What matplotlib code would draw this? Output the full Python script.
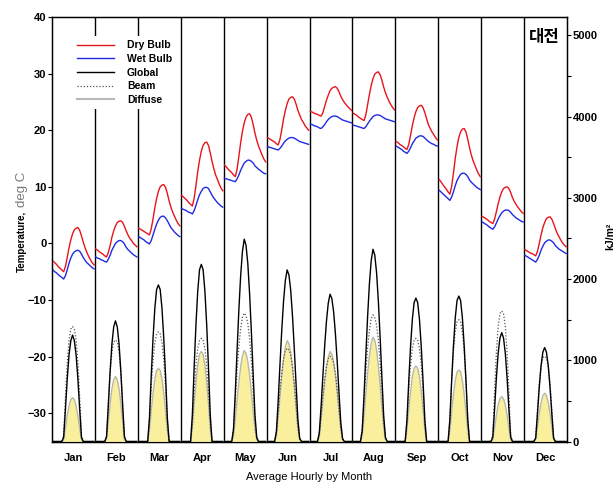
import numpy as np
import matplotlib
matplotlib.use('Agg')
from matplotlib import pyplot as plt
from matplotlib.lines import Line2D

plt.rcParams['font.family'] = ['Liberation Sans', 'DejaVu Sans']

months = ['Jan', 'Feb', 'Mar', 'Apr', 'May', 'Jun',
          'Jul', 'Aug', 'Sep', 'Oct', 'Nov', 'Dec']

# average hourly dry bulb temperature (degC), hours 0..23 for each month
dry_bulb = [
    [-3.1, -3.4, -3.7, -4.1, -4.4, -4.7, -5.0, -4.1, -2.5, -0.8, 0.6, 1.7, 2.4, 2.7, 2.8, 2.3, 1.3, 0.2, -0.8, -1.6, -2.3, -2.9, -3.4, -3.8],
    [-1.0, -1.2, -1.5, -1.7, -1.9, -2.2, -2.4, -1.6, -0.4, 1.1, 2.2, 3.1, 3.7, 3.9, 4.0, 3.7, 3.0, 2.2, 1.5, 0.9, 0.5, 0.0, -0.3, -0.6],
    [2.7, 2.5, 2.3, 2.1, 1.9, 1.7, 1.5, 2.6, 4.3, 6.3, 7.9, 9.2, 10.0, 10.3, 10.4, 9.9, 8.8, 7.5, 6.4, 5.5, 4.8, 4.1, 3.5, 3.1],
    [8.5, 8.2, 7.9, 7.6, 7.2, 6.9, 6.6, 8.0, 10.2, 12.7, 14.7, 16.3, 17.3, 17.8, 17.9, 17.3, 16.0, 14.5, 13.2, 12.1, 11.3, 10.5, 9.8, 9.3],
    [13.8, 13.5, 13.1, 12.8, 12.5, 12.1, 11.8, 13.1, 15.4, 17.8, 19.8, 21.3, 22.3, 22.8, 22.9, 22.3, 21.0, 19.5, 18.2, 17.2, 16.4, 15.6, 14.9, 14.4],
    [18.7, 18.5, 18.3, 18.1, 17.9, 17.6, 17.4, 18.4, 20.1, 22.0, 23.5, 24.7, 25.5, 25.8, 25.9, 25.5, 24.6, 23.5, 22.7, 21.9, 21.4, 20.8, 20.4, 20.0],
    [23.3, 23.2, 23.0, 22.9, 22.8, 22.6, 22.5, 23.1, 24.2, 25.3, 26.2, 27.0, 27.4, 27.6, 27.7, 27.4, 26.8, 26.0, 25.4, 24.9, 24.5, 24.1, 23.8, 23.5],
    [23.0, 22.8, 22.6, 22.3, 22.1, 21.9, 21.7, 22.7, 24.5, 26.3, 27.9, 29.1, 29.9, 30.2, 30.3, 29.8, 28.8, 27.6, 26.6, 25.8, 25.1, 24.5, 24.0, 23.6],
    [18.0, 17.8, 17.5, 17.3, 17.1, 16.8, 16.6, 17.5, 19.1, 20.8, 22.2, 23.3, 24.0, 24.3, 24.4, 24.0, 23.1, 22.0, 21.0, 20.3, 19.7, 19.2, 18.7, 18.3],
    [11.3, 10.9, 10.4, 10.0, 9.6, 9.1, 8.7, 10.1, 12.4, 15.0, 17.1, 18.7, 19.7, 20.2, 20.3, 19.7, 18.4, 16.9, 15.6, 14.6, 13.8, 13.0, 12.3, 11.8],
    [4.8, 4.6, 4.4, 4.2, 3.9, 3.7, 3.5, 4.3, 5.6, 7.0, 8.2, 9.1, 9.7, 9.9, 10.0, 9.7, 9.0, 8.1, 7.4, 6.9, 6.4, 6.0, 5.6, 5.3],
    [-1.1, -1.3, -1.5, -1.7, -1.8, -2.0, -2.2, -1.4, 0.0, 1.5, 2.8, 3.7, 4.4, 4.6, 4.7, 4.3, 3.5, 2.6, 1.8, 1.2, 0.6, 0.1, -0.3, -0.6],
]

# average hourly wet bulb temperature (degC)
wet_bulb = [
    [-4.7, -5.0, -5.2, -5.5, -5.8, -6.0, -6.3, -5.7, -4.7, -3.5, -2.6, -1.9, -1.5, -1.3, -1.2, -1.4, -1.9, -2.5, -3.0, -3.4, -3.7, -4.0, -4.3, -4.5],
    [-2.4, -2.6, -2.7, -2.9, -3.0, -3.2, -3.3, -2.8, -2.1, -1.2, -0.6, 0.0, 0.3, 0.5, 0.5, 0.3, -0.1, -0.7, -1.1, -1.4, -1.7, -2.0, -2.2, -2.4],
    [1.2, 1.0, 0.8, 0.6, 0.3, 0.1, -0.1, 0.5, 1.5, 2.5, 3.4, 4.1, 4.6, 4.8, 4.8, 4.5, 4.0, 3.4, 2.8, 2.4, 2.0, 1.7, 1.4, 1.2],
    [6.2, 6.0, 5.9, 5.7, 5.5, 5.4, 5.2, 5.8, 6.7, 7.7, 8.6, 9.2, 9.7, 9.9, 9.9, 9.7, 9.1, 8.5, 8.0, 7.6, 7.2, 6.9, 6.6, 6.4],
    [11.5, 11.4, 11.3, 11.2, 11.1, 11.0, 10.9, 11.4, 12.1, 12.9, 13.6, 14.2, 14.5, 14.7, 14.7, 14.5, 14.2, 13.7, 13.4, 13.1, 12.9, 12.6, 12.4, 12.3],
    [17.1, 17.0, 16.9, 16.8, 16.7, 16.6, 16.5, 16.8, 17.2, 17.7, 18.1, 18.4, 18.6, 18.7, 18.7, 18.6, 18.4, 18.2, 18.0, 17.9, 17.8, 17.7, 17.6, 17.5],
    [21.1, 21.0, 20.8, 20.7, 20.6, 20.4, 20.3, 20.6, 21.0, 21.5, 21.9, 22.2, 22.4, 22.5, 22.5, 22.4, 22.2, 22.0, 21.8, 21.7, 21.6, 21.5, 21.4, 21.3],
    [20.9, 20.8, 20.7, 20.6, 20.5, 20.4, 20.3, 20.6, 21.1, 21.6, 22.0, 22.4, 22.6, 22.7, 22.7, 22.6, 22.4, 22.2, 22.0, 21.9, 21.8, 21.7, 21.6, 21.5],
    [17.2, 17.0, 16.8, 16.6, 16.3, 16.1, 15.9, 16.3, 16.9, 17.6, 18.1, 18.6, 18.8, 19.0, 19.0, 18.9, 18.6, 18.3, 18.0, 17.8, 17.6, 17.5, 17.3, 17.2],
    [9.4, 9.1, 8.8, 8.5, 8.2, 7.9, 7.6, 8.2, 9.1, 10.2, 11.1, 11.7, 12.2, 12.4, 12.4, 12.2, 11.8, 11.2, 10.8, 10.5, 10.2, 9.9, 9.7, 9.5],
    [3.8, 3.6, 3.4, 3.2, 2.9, 2.7, 2.5, 2.9, 3.6, 4.3, 4.9, 5.4, 5.7, 5.9, 5.9, 5.8, 5.5, 5.1, 4.8, 4.5, 4.3, 4.1, 3.9, 3.8],
    [-2.1, -2.3, -2.5, -2.7, -2.9, -3.1, -3.3, -2.8, -2.1, -1.2, -0.5, 0.1, 0.4, 0.6, 0.6, 0.4, 0.1, -0.4, -0.7, -1.0, -1.2, -1.4, -1.6, -1.8],
]

# solar radiation (kJ/m2), daylight hours only; first value belongs to hour sun_start[m]
sun_start = [6, 6, 6, 6, 5, 5, 5, 5, 6, 6, 6, 6]

global_rad = [
    [50, 390, 760, 1060, 1240, 1310, 1240, 1060, 760, 390, 50],
    [60, 445, 860, 1200, 1410, 1485, 1410, 1200, 860, 445, 60],
    [290, 810, 1270, 1640, 1870, 1927, 1870, 1640, 1270, 810, 290],
    [330, 915, 1440, 1850, 2115, 2180, 2115, 1850, 1440, 915, 330],
    [150, 600, 1120, 1620, 2040, 2340, 2490, 2415, 2190, 1820, 1345, 820, 325, 50],
    [125, 505, 950, 1375, 1730, 1985, 2112, 2050, 1860, 1540, 1140, 700, 275, 40],
    [110, 435, 815, 1180, 1485, 1705, 1813, 1760, 1595, 1325, 980, 600, 235, 35],
    [140, 570, 1065, 1540, 1940, 2225, 2366, 2295, 2080, 1730, 1280, 780, 310, 45],
    [265, 740, 1165, 1500, 1710, 1765, 1710, 1500, 1165, 740, 265],
    [270, 750, 1180, 1520, 1735, 1790, 1735, 1520, 1180, 750, 270],
    [55, 400, 780, 1085, 1275, 1340, 1275, 1085, 780, 400, 55],
    [45, 345, 670, 935, 1100, 1156, 1100, 935, 670, 345, 45],
]

beam_rad = [
    [70, 540, 960, 1245, 1385, 1415, 1385, 1245, 960, 540, 70],
    [60, 475, 850, 1100, 1225, 1250, 1225, 1100, 850, 475, 60],
    [245, 675, 1000, 1215, 1325, 1350, 1325, 1215, 1000, 675, 245],
    [230, 635, 940, 1145, 1245, 1270, 1245, 1145, 940, 635, 230],
    [160, 505, 870, 1170, 1390, 1530, 1580, 1550, 1455, 1265, 980, 630, 255, 45],
    [115, 370, 635, 850, 1010, 1115, 1150, 1125, 1060, 920, 715, 460, 185, 35],
    [105, 335, 580, 775, 925, 1020, 1050, 1030, 965, 840, 650, 420, 170, 30],
    [155, 500, 855, 1155, 1370, 1510, 1558, 1525, 1435, 1245, 965, 625, 250, 45],
    [230, 635, 940, 1145, 1245, 1270, 1245, 1145, 940, 635, 230],
    [270, 750, 1110, 1350, 1470, 1500, 1470, 1350, 1110, 750, 270],
    [80, 610, 1095, 1415, 1575, 1607, 1575, 1415, 1095, 610, 80],
    [50, 400, 715, 925, 1030, 1050, 1030, 925, 715, 400, 50],
]

diffuse_rad = [
    [20, 160, 315, 435, 515, 540, 515, 435, 315, 160, 20],
    [30, 240, 465, 650, 760, 800, 760, 650, 465, 240, 30],
    [135, 380, 595, 765, 875, 900, 875, 765, 595, 380, 135],
    [165, 465, 730, 940, 1075, 1107, 1075, 940, 730, 465, 165],
    [65, 270, 505, 730, 920, 1055, 1120, 1085, 985, 820, 605, 370, 145, 20],
    [75, 300, 560, 805, 1020, 1165, 1242, 1205, 1095, 905, 670, 410, 160, 25],
    [65, 265, 500, 720, 910, 1040, 1107, 1075, 975, 810, 600, 365, 145, 20],
    [75, 310, 580, 835, 1055, 1205, 1284, 1245, 1130, 935, 695, 425, 165, 25],
    [140, 390, 615, 790, 900, 930, 900, 790, 615, 390, 140],
    [130, 370, 580, 750, 855, 880, 855, 750, 580, 370, 130],
    [20, 165, 320, 450, 525, 553, 525, 450, 320, 165, 20],
    [25, 180, 345, 480, 565, 595, 565, 480, 345, 180, 25],
]


def day_profile(vals, start):
    out = np.zeros(24)
    out[start:start + len(vals)] = vals
    return out


fig = plt.figure(figsize=(6.13, 4.82), dpi=100)
ax = fig.add_axes([52/613, 1-441.5/482, 515/613, 424.5/482])
ax2 = ax.twinx()

red = '#e8141b'
blue = '#1f2be0'
yellow = '#f9ef9d'

for m in range(12):
    x = m*24 + np.arange(24) + 0.5
    ax.plot(x, dry_bulb[m], color=red, lw=1.0, zorder=3)
    ax.plot(x, wet_bulb[m], color=blue, lw=1.0, zorder=3)
    g = day_profile(global_rad[m], sun_start[m])
    b = day_profile(beam_rad[m], sun_start[m])
    d = day_profile(diffuse_rad[m], sun_start[m])
    ax2.fill_between(x, 0, d, color=yellow, lw=0, zorder=1)
    ax2.plot(x, d, color='#b8b8a8', lw=1.0, zorder=2)
    ax2.plot(x, b, color='#555555', lw=0.9, ls=(0, (1, 1.5)), zorder=3)
    ax2.plot(x, g, color='black', lw=1.0, zorder=4)

for m in range(1, 12):
    ax.axvline(m*24, color='black', lw=1.0, zorder=2)

ax.set_xlim(0, 288)
ax.set_ylim(-35, 40)
ax2.set_ylim(0, 5225)

ax.set_xticks([m*24 + 12 for m in range(12)])
ax.set_xticklabels(months, fontsize=8, fontweight='bold')
ax.tick_params(axis='x', length=0, pad=8)
ax.set_yticks(np.arange(-30, 41, 10))
ax.tick_params(axis='y', labelsize=8, length=3, width=0.8, pad=1)
for t in ax.get_yticklabels():
    t.set_fontweight('bold')

ax2.set_yticks(np.arange(0, 5001, 1000))
ax2.set_yticks(np.arange(500, 5001, 1000), minor=True)
ax2.tick_params(axis='y', which='both', labelsize=8, length=3, width=0.8, pad=1)
for t in ax2.get_yticklabels():
    t.set_fontweight('bold')

for sp in ax.spines.values():
    sp.set_linewidth(1.0)

ax.set_xlabel('Average Hourly by Month', fontsize=8, labelpad=7)

fig.text(22/613, 1-272/482, 'Temperature,', rotation=90, fontsize=7,
         fontweight='bold', ha='center', va='bottom')
fig.text(22/613, 1-207/482, 'deg C', rotation=90, fontsize=9.5,
         color='#7a7a7a', ha='center', va='bottom')
fig.text(605/613, 1-236/482, 'kJ/m²', rotation=90, fontsize=7.5,
         fontweight='bold', ha='left', va='center')

ax2.text(0.985, 0.975, '대전', transform=ax.transAxes, ha='right', va='top',
         fontsize=12, fontweight='bold', family=['Noto Sans CJK KR', 'DejaVu Sans'])

handles = [
    Line2D([], [], color=red, lw=1.0),
    Line2D([], [], color=blue, lw=1.0),
    Line2D([], [], color='black', lw=1.0),
    Line2D([], [], color='#555555', lw=0.9, ls=(0, (1, 1.5))),
    Line2D([], [], color='#b8b8b8', lw=1.5),
]
labels = ['Dry Bulb', 'Wet Bulb', 'Global', 'Beam', 'Diffuse']
leg = ax2.legend(handles, labels, loc='upper left', bbox_to_anchor=(0.04, 0.955),
                 frameon=True, fancybox=False, edgecolor='none', facecolor='white',
                 framealpha=1, handlelength=3.6, handletextpad=1.2,
                 labelspacing=0.35, borderpad=0.4, borderaxespad=0,
                 prop={'size': 7.5, 'weight': 'bold'})

fig.savefig('out.png', dpi=100)
